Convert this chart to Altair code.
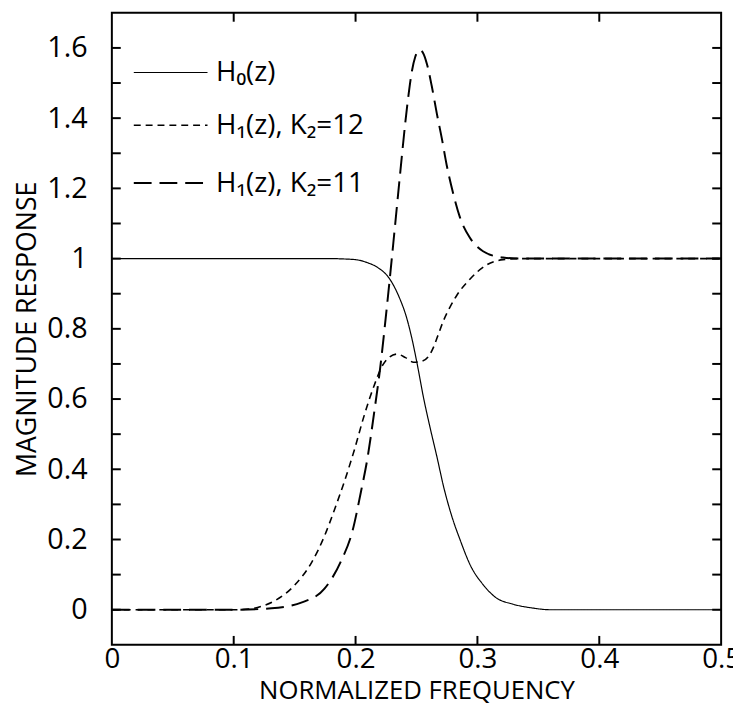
import altair as alt
import pandas as pd

# ---- data ----
h0_f = [0.0, 0.05, 0.10, 0.15, 0.18, 0.19, 0.20, 0.21, 0.218, 0.228, 0.237, 0.241, 0.246, 0.250,
        0.256, 0.261, 0.267, 0.272, 0.279, 0.286, 0.294, 0.305, 0.315, 0.329, 0.345, 0.36, 0.40, 0.45, 0.50]
h0_v = [1.0, 1.0, 1.0, 1.0, 1.0, 0.999, 0.997, 0.988, 0.975, 0.942, 0.88, 0.842, 0.776, 0.71,
        0.60, 0.521, 0.432, 0.354, 0.266, 0.197, 0.128, 0.07, 0.035, 0.016, 0.005, 0.0, 0.0, 0.0, 0.0]

k12_f = [0.0, 0.05, 0.10, 0.112, 0.123, 0.134, 0.150, 0.164, 0.1745, 0.1827, 0.1908, 0.199, 0.2068,
         0.2152, 0.222, 0.228, 0.234, 0.241, 0.2475, 0.2545, 0.260, 0.264, 0.268, 0.272, 0.2775, 0.283,
         0.294, 0.307, 0.321, 0.335, 0.40, 0.45, 0.50]
k12_v = [0.0, 0.0, 0.0, 0.002, 0.01, 0.026, 0.07, 0.135, 0.21, 0.285, 0.365, 0.455, 0.55,
         0.638, 0.695, 0.72, 0.728, 0.718, 0.705, 0.708, 0.722, 0.748, 0.785, 0.822, 0.862, 0.895,
         0.942, 0.981, 0.997, 1.0, 1.0, 1.0, 1.0]

k11_f = [0.0, 0.05, 0.10, 0.131, 0.156, 0.1745, 0.188, 0.1976, 0.2043, 0.2098, 0.2152, 0.2206, 0.2247,
         0.228, 0.232, 0.2368, 0.2409, 0.2436, 0.2463, 0.249, 0.2526, 0.2555, 0.2585, 0.2626, 0.2667,
         0.2707, 0.2748, 0.280, 0.2856, 0.2937, 0.3046, 0.321, 0.335, 0.40, 0.45, 0.50]
k11_v = [0.0, 0.0, 0.0, 0.004, 0.021, 0.06, 0.138, 0.226, 0.334, 0.432, 0.56, 0.70, 0.83,
         0.94, 1.08, 1.25, 1.39, 1.47, 1.535, 1.575, 1.594, 1.585, 1.555, 1.49, 1.413,
         1.344, 1.266, 1.187, 1.118, 1.06, 1.021, 1.003, 1.0, 1.0, 1.0, 1.0]

series_labels = ["H\u2080(z)", "H\u2081(z), K\u2082=12", "H\u2081(z), K\u2082=11"]

x_tick_values = [0.0, 0.1, 0.2, 0.3, 0.4, 0.5]
y_tick_values = [0.0, 0.2, 0.4, 0.6, 0.8, 1.0, 1.2, 1.4, 1.6]
x_minor = [0.1, 0.2, 0.3, 0.4]
y_minor = [0.0, 0.1, 0.2, 0.3, 0.4, 0.5, 0.6, 0.7, 0.8, 0.9, 1.0, 1.1, 1.2, 1.3, 1.4, 1.5, 1.6]

# ---- layout constants ----
X_MIN, X_MAX = 0.0, 0.5
Y_MIN, Y_MAX = -0.1, 1.7
W, H = 616, 639
TL = 9  # inward tick length, px
tick_dx = TL * (X_MAX - X_MIN) / W
tick_dy = TL * (Y_MAX - Y_MIN) / H
FONT = "Open Sans"

# ---- tables ----
curves = pd.concat([
    pd.DataFrame({"f": h0_f, "v": h0_v, "series": series_labels[0]}),
    pd.DataFrame({"f": k12_f, "v": k12_v, "series": series_labels[1]}),
    pd.DataFrame({"f": k11_f, "v": k11_v, "series": series_labels[2]}),
], ignore_index=True)

legend_df = pd.DataFrame({
    "series": series_labels,
    "ly": [1.53, 1.38, 1.215],
    "lx1": [0.018] * 3,
    "lx2": [0.0785] * 3,
    "tx": [0.0855] * 3,
})

yt_rows = []
for v in y_minor:
    yt_rows.append({"ty": v, "tx1": X_MIN, "tx2": X_MIN + tick_dx})
    yt_rows.append({"ty": v, "tx1": X_MAX - tick_dx, "tx2": X_MAX})
yticks = pd.DataFrame(yt_rows)
xt_rows = []
for f in x_minor:
    xt_rows.append({"tf": f, "ty1": Y_MIN, "ty2": Y_MIN + tick_dy})
    xt_rows.append({"tf": f, "ty1": Y_MAX - tick_dy, "ty2": Y_MAX})
xticks = pd.DataFrame(xt_rows)

xs = alt.Scale(domain=[X_MIN, X_MAX], nice=False, zero=False)
ys = alt.Scale(domain=[Y_MIN, Y_MAX], nice=False, zero=False)

xaxis = alt.Axis(values=x_tick_values, format="~g", ticks=False, domain=False, grid=False,
                 labelFont=FONT, labelFontSize=28, labelColor="black", labelPadding=1,
                 labelFlush=False, labelOverlap=False,
                 title="NORMALIZED FREQUENCY", titleFont=FONT, titleFontSize=26,
                 titleFontWeight="normal", titleColor="black", titleY=46,
                 titleBaseline="middle", titleAlign="center")
yaxis = alt.Axis(values=y_tick_values, format="~g", ticks=False, domain=False, grid=False,
                 labelFont=FONT, labelFontSize=29, labelColor="black", labelPadding=25,
                 labelFlush=False, labelOverlap=False,
                 title="MAGNITUDE RESPONSE", titleFont=FONT, titleFontSize=27,
                 titleFontWeight="normal", titleColor="black", titleX=-85, titleY=H / 2,
                 titleBaseline="middle", titleAlign="center", titleAngle=-90)

X = lambda fld: alt.X(fld, type="quantitative", scale=xs, axis=xaxis)
Y = lambda fld: alt.Y(fld, type="quantitative", scale=ys, axis=yaxis)

dash_scale = alt.Scale(domain=series_labels, range=[[1, 0], [7, 5], [18, 8]])
width_scale = alt.Scale(domain=series_labels, range=[1.2, 2.0, 2.0])

lines = alt.Chart(curves).mark_line(color="black", interpolate="monotone", clip=True).encode(
    x=X("f"), y=Y("v"),
    detail="series:N",
    strokeDash=alt.StrokeDash("series:N", scale=dash_scale, legend=None),
    strokeWidth=alt.StrokeWidth("series:N", scale=width_scale, legend=None),
)

legend_lines = alt.Chart(legend_df).mark_rule(color="black").encode(
    x=X("lx1"), x2=alt.X2("lx2"), y=Y("ly"),
    strokeDash=alt.StrokeDash("series:N", scale=dash_scale, legend=None),
    strokeWidth=alt.StrokeWidth("series:N", scale=width_scale, legend=None),
)
legend_text = alt.Chart(legend_df).mark_text(
    align="left", baseline="middle", font=FONT, fontSize=28, color="black", dy=1
).encode(x=X("tx"), y=Y("ly"), text="series:N")

ytick_layer = alt.Chart(yticks).mark_rule(color="black", strokeWidth=2).encode(
    x=X("tx1"), x2=alt.X2("tx2"), y=Y("ty"))
xtick_layer = alt.Chart(xticks).mark_rule(color="black", strokeWidth=2).encode(
    x=X("tf"), y=Y("ty1"), y2=alt.Y2("ty2"))

chart = alt.layer(
    lines, legend_lines, legend_text, ytick_layer, xtick_layer
).properties(
    width=W, height=H,
    autosize=alt.AutoSizeParams(type="none"),
    padding={"left": 105, "top": 1, "right": 12, "bottom": 61},
    background="white",
).configure_view(stroke="black", strokeWidth=2)

chart.save("out.html", embed_options={"renderer": "svg", "actions": False})
